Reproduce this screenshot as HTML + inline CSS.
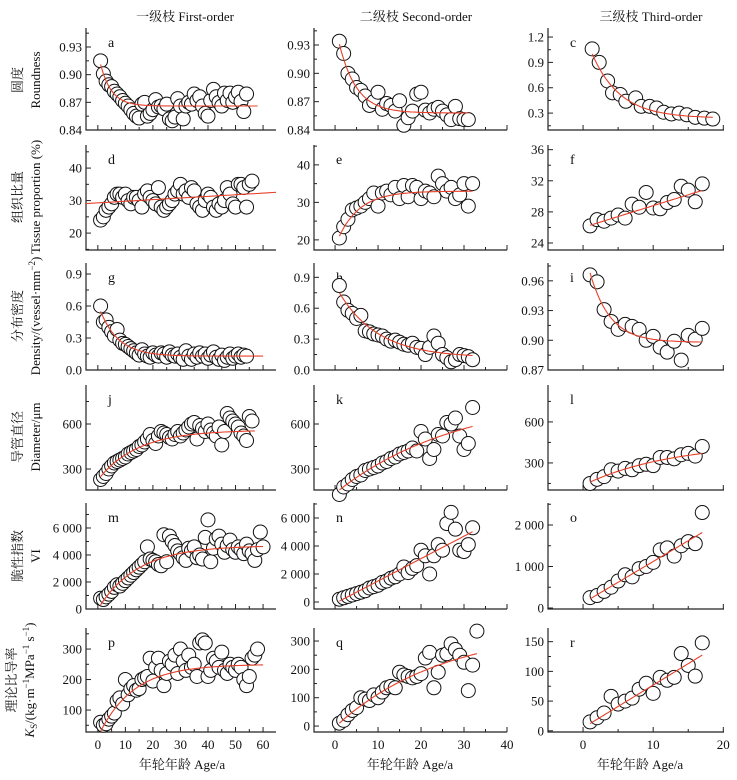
<!DOCTYPE html>
<html><head><meta charset="utf-8"><style>
html,body{margin:0;padding:0;background:#fff;}
svg{display:block;font-family:"Liberation Serif","Noto Serif CJK SC","Noto Sans CJK SC",serif;}
</style></head><body>
<svg id="chart" width="737" height="780" viewBox="0 0 737 780" xmlns="http://www.w3.org/2000/svg">
<g font-size="13" text-anchor="middle" fill="#111">
<text x="185" y="21">一级枝 First-order</text>
<text x="416" y="21">二级枝 Second-order</text>
<text x="651" y="21">三级枝 Third-order</text>
</g>
<g font-size="13" text-anchor="middle" fill="#111">
<text x="182" y="769">年轮年龄 Age/a</text>
<text x="410" y="769">年轮年龄 Age/a</text>
<text x="640" y="769">年轮年龄 Age/a</text>
</g>
<g font-size="13" text-anchor="middle" fill="#111">
<text transform="translate(22,80) rotate(-90)">圆度</text>
<text transform="translate(40,80) rotate(-90)">Roundness</text>
<text transform="translate(22,197) rotate(-90)">组织比量</text>
<text transform="translate(40,197) rotate(-90)">Tissue proportion (%)</text>
<text transform="translate(22,316) rotate(-90)">分布密度</text>
<text transform="translate(40,316) rotate(-90)">Density/(vessel·mm<tspan font-size="9" dy="-5">−2</tspan><tspan dy="5">)</tspan></text>
<text transform="translate(22,437) rotate(-90)">导管直径</text>
<text transform="translate(40,437) rotate(-90)">Diameter/μm</text>
<text transform="translate(22,556) rotate(-90)">脆性指数</text>
<text transform="translate(40,556) rotate(-90)">VI</text>
<text transform="translate(16,680) rotate(-90)">理论比导率</text>
<text transform="translate(34,680) rotate(-90)"><tspan font-style="italic">K</tspan><tspan font-size="9" dy="3">S</tspan><tspan dy="-3">/(kg·m</tspan><tspan font-size="9" dy="-5">−1</tspan><tspan dy="5">MPa</tspan><tspan font-size="9" dy="-5">−1</tspan><tspan dy="5"> s</tspan><tspan font-size="9" dy="-5">−1</tspan><tspan dy="5">)</tspan></text>
</g>
<g id="panels"></g>
</svg>
<script>
// ---- data ----
const age1 = [1,2,3,4,5,6,7,8,9,10,11,12,13,14,15,16,17,18,19,20,21,22,23,24,25,26,27,28,29,30,31,32,33,34,35,36,37,38,39,40,41,42,43,44,45,46,47,48,49,50,51,52,53,54,55,56,57,58,59,60];
const age2 = [1,2,3,4,5,6,7,8,9,10,11,12,13,14,15,16,17,18,19,20,21,22,23,24,25,26,27,28,29,30,31,32,33];
const age3 = [1,2,3,4,5,6,7,8,9,10,11,12,13,14,15,16,17];
const ageC = [1.3,2.3,3.5,4.2,5.3,6.1,7.5,8.3,9.5,10.5,11.5,12.6,13.7,14.8,16,17.3,18.5];

const valA = [0.915,0.901,0.893,0.889,0.887,0.882,0.879,0.876,0.872,0.869,0.866,0.862,0.858,0.855,0.853,0.868,0.870,0.855,0.858,0.862,0.873,0.865,0.866,0.863,0.868,0.852,0.850,0.854,0.874,0.866,0.852,0.866,0.870,0.868,0.879,0.872,0.876,0.866,0.858,0.855,0.872,0.884,0.876,0.870,0.866,0.880,0.872,0.880,0.870,0.876,0.881,0.871,0.860,0.879];
const valD = [24,25,27,28,29,31,32,32,31,32,30,29,31,31,30,28,32,33,31,30,29,34,28,27,28,29,30,32,33,35,32,33,31,34,33,29,28,27,30,32,31,28,27,29,28,30,34,32,29,28,35,35,34,28,35,36];
const valG = [0.60,0.45,0.47,0.40,0.36,0.32,0.38,0.28,0.25,0.24,0.22,0.20,0.18,0.16,0.14,0.19,0.15,0.13,0.12,0.16,0.14,0.13,0.16,0.15,0.12,0.17,0.14,0.13,0.15,0.12,0.10,0.18,0.13,0.10,0.15,0.12,0.16,0.13,0.15,0.11,0.14,0.17,0.12,0.10,0.14,0.09,0.12,0.15,0.11,0.13,0.15,0.12,0.14,0.13];
const valJ = [230,250,270,300,320,340,350,360,370,380,400,410,420,430,450,460,480,500,530,490,470,520,550,540,530,510,500,530,550,520,540,560,580,600,610,500,590,570,550,600,560,540,520,580,460,550,670,640,620,600,580,540,520,490,650,620];
const valM = [800,700,900,1100,1300,1600,1800,1700,1900,2100,2300,2500,2700,2900,3100,3300,3500,4600,3700,3600,3500,3300,3200,5500,3500,5400,5000,4700,4300,4100,3800,3600,4500,4300,4600,3800,4000,3700,5300,6600,3500,4500,5200,5400,4800,4200,4700,5100,4400,4200,4600,4400,4100,4800,4300,4100,3600,4400,5700,4600];
const valP = [60,50,55,70,80,90,130,140,120,200,150,170,180,165,170,200,205,210,270,195,240,270,230,180,220,260,250,280,220,300,260,230,280,240,250,210,320,330,320,210,230,270,260,240,290,230,220,250,240,230,250,240,200,180,210,270,280,300];

const valB = [0.934,0.921,0.900,0.894,0.885,0.882,0.876,0.866,0.870,0.880,0.862,0.868,0.866,0.860,0.871,0.845,0.853,0.860,0.878,0.880,0.861,0.858,0.862,0.864,0.860,0.856,0.851,0.865,0.852,0.851,0.851];
const valE = [20.5,23.5,25.5,28,28.5,29,30,31,32.5,29,32.5,33,32,34,31,34.5,31.5,34.5,34,31,33,32.5,31.5,37,35,33,34,31,32,35,29,35];
const valH = [0.82,0.66,0.58,0.55,0.50,0.53,0.38,0.37,0.35,0.34,0.33,0.30,0.28,0.29,0.27,0.25,0.24,0.26,0.22,0.21,0.15,0.22,0.33,0.26,0.15,0.12,0.08,0.10,0.15,0.14,0.13,0.10];
const valK = [130,180,200,230,250,260,290,300,310,320,340,350,370,380,400,410,420,440,420,550,500,370,430,530,520,610,600,640,520,430,470,710];
const valN = [200,300,400,500,600,700,800,1000,1100,1200,1400,1500,1700,1800,2000,2500,2100,2400,2600,3700,3300,2000,3300,4100,3700,5600,6400,5200,3700,3600,4100,5300];
const valQ = [10,20,40,55,65,100,95,90,110,100,120,135,140,135,190,180,175,170,175,185,240,260,135,190,250,255,290,270,250,225,125,215,335];

const valC = [1.06,0.90,0.68,0.54,0.52,0.44,0.48,0.38,0.38,0.36,0.31,0.29,0.30,0.28,0.25,0.24,0.23];
const valF = [26.2,27,26.8,27.2,27.6,27.2,29,28.6,30.5,28.5,28.4,29.2,29.6,31.3,30.8,29.3,31.6];
const valI = [0.966,0.959,0.931,0.919,0.911,0.916,0.914,0.911,0.900,0.904,0.893,0.888,0.899,0.880,0.905,0.901,0.912];
const valL = [150,180,200,250,240,260,250,280,290,280,340,340,330,360,370,350,420];
const valO = [250,300,400,500,650,800,750,950,1000,1100,1400,1450,1250,1500,1600,1550,2300];
const valR = [15,22,30,58,45,50,55,70,80,63,90,85,90,130,110,92,148];

// fit parameters: exp model [c, A, k] -> c + A*exp(-k(x-1)); linear [a, b] -> a + b*x
const fitA = [0.866,0.045,0.25], fitD = [29.3,0.05], fitG = [0.13,0.42,0.15], fitJ = [560,-310,0.07], fitM = [4700,-4400,0.07], fitP = [250,-220,0.08];
const fitB = [0.858,0.073,0.25], fitE = [33,-12,0.2], fitH = [0.12,0.63,0.11], fitK = [800,-640,0.035], fitN = [-100,160], fitQ = [350,-340,0.04];
const fitC = [0.24,0.82,0.25], fitF = [26.0,0.28], fitI = [0.898,0.07,0.35], fitL = [450,-290,0.08], fitO = [120,100], fitR = [5,7.2];

const ticksA = [0.84,0.87,0.90,0.93], labA = ["0.84","0.87","0.90","0.93"];
const ticksD = [20,30,40], labD = ["20","30","40"];
const ticksG = [0,0.3,0.6,0.9], labG = ["0.0","0.3","0.6","0.9"];
const ticksJ = [300,600], labJ = ["300","600"];
const ticksM = [0,2000,4000,6000], labM = ["0","2 000","4 000","6 000"];
const ticksP = [100,200,300], labP = ["100","200","300"];
const ticksC = [0.3,0.6,0.9,1.2], labC = ["0.3","0.6","0.9","1.2"];
const ticksF = [24,28,32,36], labF = ["24","28","32","36"];
const ticksI = [0.87,0.90,0.93,0.96], labI = ["0.87","0.90","0.93","0.96"];
const ticksO = [0,1000,2000], labO = ["0","1 000","2 000"];
const ticksQ = [0,100,200,300], labQ = ["0","100","200","300"];
const ticksR = [0,50,100,150], labR = ["0","50","100","150"];
const xTicks1 = [0,10,20,30,40,50,60], xTicks2 = [0,10,20,30,40], xTicks3 = [0,10,20];

// ---- layout ----
const cols = [
 {x0:86, x1:276, d:[-4.3,64.7], major:xTicks1},
 {x0:314, x1:507, d:[-4.9,40], major:xTicks2},
 {x0:548, x1:724, d:[-5,20.1], major:xTicks3}
];
const rows = [[28,130],[145,250],[263,370],[385,490],[503,609],[628,732]];
const panels = [
 {l:'a',c:0,r:0,x:age1,y:valA,yd:[0.84,0.9506],t:ticksA,tl:labA,f:fitA,fx:[1,58]},
 {l:'b',c:1,r:0,x:age2,y:valB,yd:[0.84,0.948],t:ticksA,tl:labA,f:fitB,fx:[1,31]},
 {l:'c',c:2,r:0,x:ageC,y:valC,yd:[0.1,1.307],t:ticksC,tl:labC,f:fitC,fx:[1.3,18.5]},
 {l:'d',c:0,r:1,x:age1,y:valD,yd:[14.8,47.1],t:ticksD,tl:labD,f:fitD,fx:[-4.3,64.7]},
 {l:'e',c:1,r:1,x:age2,y:valE,yd:[17.3,45.3],t:ticksD,tl:labD,f:fitE,fx:[1,32]},
 {l:'f',c:2,r:1,x:age3,y:valF,yd:[23.1,36.6],t:ticksF,tl:labF,f:fitF,fx:[1,17]},
 {l:'g',c:0,r:2,x:age1,y:valG,yd:[0,1.003],t:ticksG,tl:labG,f:fitG,fx:[1,60]},
 {l:'h',c:1,r:2,x:age2,y:valH,yd:[0,1.039],t:ticksG,tl:labG,f:fitH,fx:[1,32]},
 {l:'i',c:2,r:2,x:age3,y:valI,yd:[0.87,0.978],t:ticksI,tl:labI,f:fitI,fx:[1,17]},
 {l:'j',c:0,r:3,x:age1,y:valJ,yd:[160,860],t:ticksJ,tl:labJ,f:fitJ,fx:[1,57]},
 {l:'k',c:1,r:3,x:age2,y:valK,yd:[160,860],t:ticksJ,tl:labJ,f:fitK,fx:[1,32]},
 {l:'l',c:2,r:3,x:age3,y:valL,yd:[102,870],t:ticksJ,tl:labJ,f:fitL,fx:[1,17]},
 {l:'m',c:0,r:4,x:age1,y:valM,yd:[0,7850],t:ticksM,tl:labM,f:fitM,fx:[1,60]},
 {l:'n',c:1,r:4,x:age2,y:valN,yd:[-500,7070],t:ticksM,tl:labM,f:fitN,fx:[1,32]},
 {l:'o',c:2,r:4,x:age3,y:valO,yd:[-24,2530],t:ticksO,tl:labO,f:fitO,fx:[1,17]},
 {l:'p',c:0,r:5,x:age1,y:valP,yd:[28,369],t:ticksP,tl:labP,f:fitP,fx:[1,60]},
 {l:'q',c:1,r:5,x:age2,y:valQ,yd:[-21,346],t:ticksQ,tl:labQ,f:fitQ,fx:[1,33]},
 {l:'r',c:2,r:5,x:age3,y:valR,yd:[-2,173],t:ticksR,tl:labR,f:fitR,fx:[1,17]}
];
const NS = 'http://www.w3.org/2000/svg';
function mk(tag, attrs, parent){ const e=document.createElementNS(NS,tag); for(const k in attrs) e.setAttribute(k,attrs[k]); parent.appendChild(e); return e; }
function fitVal(f, x){ return f.length===2 ? f[0]+f[1]*x : f[0]+f[1]*Math.exp(-f[2]*(x-1)); }
const root = document.getElementById('panels');
panels.forEach(p=>{
  const col = cols[p.c], row = rows[p.r];
  const sx = v => col.x0 + (v-col.d[0])/(col.d[1]-col.d[0])*(col.x1-col.x0);
  const sy = v => row[1] - (v-p.yd[0])/(p.yd[1]-p.yd[0])*(row[1]-row[0]);
  const g = mk('g',{},root);
  
  
  // axes
  const ax = mk('path',{d:`M${col.x0},${row[0]}V${row[1]}H${col.x1}`,fill:'none',stroke:'#222','stroke-width':1.2},g);
  
  
  // x ticks
  for(let v=col.major[0]; v<=col.d[1]; v+=5){
    const X=sx(v), big=(v%10===0);
    const t=mk('line',{x1:X,x2:X,y1:row[1],y2:row[1]-(big?5:3),stroke:'#222','stroke-width':1},g);
    
    
    if(p.r===5 && big){
      const tx=mk('text',{x:X,y:row[1]+17,'font-size':13,'text-anchor':'middle',fill:'#111'},g);
      tx.textContent=String(v);
      
      
    }
  }
  // y ticks
  const step = p.t.length>1 ? p.t[1]-p.t[0] : p.t[0];
  for(let i=0;i<p.t.length;i++){
    const Y=sy(p.t[i]);
    const t=mk('line',{x1:col.x0,x2:col.x0+5,y1:Y,y2:Y,stroke:'#222','stroke-width':1},g);
    
    
    const tx=mk('text',{x:col.x0-4,y:Y+4.5,'font-size':13,'text-anchor':'end',fill:'#111'},g);
    tx.textContent=p.tl[i];
    
    
  }
  for(let v=p.t[0]-step/2; v<=p.yd[1]; v+=step){
    if(v<p.yd[0]) continue;
    const Y=sy(v);
    const t=mk('line',{x1:col.x0,x2:col.x0+3,y1:Y,y2:Y,stroke:'#222','stroke-width':1},g);
    
    
  }
  // letter
  const lt=mk('text',{x:col.x0+22,y:row[0]+19,'font-size':14,fill:'#111'},g);
  lt.textContent=p.l;
  
  
  // points
  for(let i=0;i<p.y.length;i++){
    const c=mk('circle',{cx:sx(p.x[i]),cy:sy(p.y[i]),r:7,fill:'#fff',stroke:'#111','stroke-width':1},g);
    
    
  }
  // fit line
  let d='';
  for(let k=0;k<=60;k++){
    const xv=p.fx[0]+(p.fx[1]-p.fx[0])*k/60;
    d+=(k?'L':'M')+sx(xv).toFixed(1)+','+sy(fitVal(p.f,xv)).toFixed(1);
  }
  const fl=mk('path',{d:d,fill:'none',stroke:'#e8402a','stroke-width':1.1},g);
  
  
});
</script>
</body></html>
